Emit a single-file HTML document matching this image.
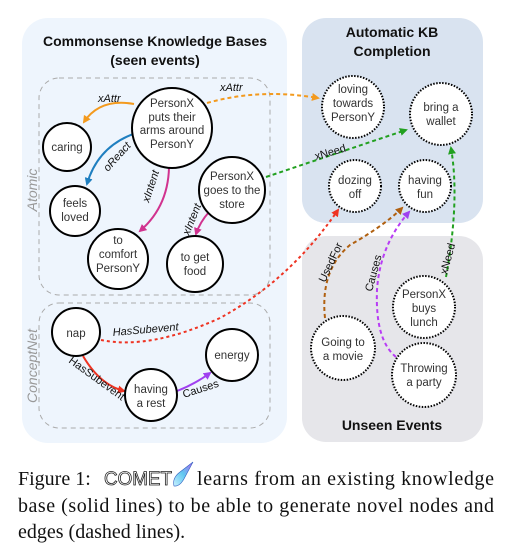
<!DOCTYPE html>
<html><head><meta charset="utf-8"><style>
html,body{margin:0;padding:0;background:#fff;}
svg{display:block;}
.s{font-family:"Liberation Sans",sans-serif;}
.n{font-family:"Liberation Sans",sans-serif;font-size:11.5px;fill:#333;text-anchor:middle;}
.l{font-family:"Liberation Sans",sans-serif;font-size:11px;font-style:italic;fill:#111;}
.t{font-family:"Liberation Sans",sans-serif;font-size:14px;font-weight:bold;fill:#111;text-anchor:middle;}
.c{font-family:"Liberation Serif",serif;font-size:20px;fill:#111;}
</style></head><body>
<svg width="515" height="546" viewBox="0 0 515 546" xmlns="http://www.w3.org/2000/svg">
<defs>
<marker id="aO" markerWidth="8" markerHeight="8" refX="6" refY="4" orient="auto" markerUnits="userSpaceOnUse"><path d="M0,0 L8,4 L0,8z" fill="#f39a1e"/></marker>
<marker id="aB" markerWidth="8" markerHeight="8" refX="6" refY="4" orient="auto" markerUnits="userSpaceOnUse"><path d="M0,0 L8,4 L0,8z" fill="#1f7fc0"/></marker>
<marker id="aM" markerWidth="8" markerHeight="8" refX="6" refY="4" orient="auto" markerUnits="userSpaceOnUse"><path d="M0,0 L8,4 L0,8z" fill="#d1338f"/></marker>
<marker id="aR" markerWidth="8" markerHeight="8" refX="6" refY="4" orient="auto" markerUnits="userSpaceOnUse"><path d="M0,0 L8,4 L0,8z" fill="#ee3322"/></marker>
<marker id="aP" markerWidth="8" markerHeight="8" refX="6" refY="4" orient="auto" markerUnits="userSpaceOnUse"><path d="M0,0 L8,4 L0,8z" fill="#a040f0"/></marker>
<marker id="aG" markerWidth="8" markerHeight="8" refX="6" refY="4" orient="auto" markerUnits="userSpaceOnUse"><path d="M0,0 L8,4 L0,8z" fill="#22a020"/></marker>
<marker id="aBr" markerWidth="8" markerHeight="8" refX="6" refY="4" orient="auto" markerUnits="userSpaceOnUse"><path d="M0,0 L8,4 L0,8z" fill="#b06010"/></marker>
<linearGradient id="cg" x1="0" y1="1" x2="1" y2="0"><stop offset="0" stop-color="#c8f0ff"/><stop offset="0.5" stop-color="#60c8f0"/><stop offset="1" stop-color="#b060f0"/></linearGradient>
</defs>

<!-- panels -->
<rect x="22" y="18" width="265" height="425" rx="26" fill="#eef5fd"/>
<rect x="302" y="18" width="181" height="205" rx="24" fill="#d9e3f0"/>
<rect x="302" y="236" width="181" height="206" rx="24" fill="#e6e6ea"/>

<text class="t" x="155" y="46">Commonsense Knowledge Bases</text>
<text class="t" x="155" y="65">(seen events)</text>
<text class="t" x="392" y="37">Automatic KB</text>
<text class="t" x="392" y="56">Completion</text>
<text class="t" x="392" y="430">Unseen Events</text>

<rect x="39" y="78" width="231" height="217" rx="20" fill="none" stroke="#aaa" stroke-dasharray="5,4"/>
<rect x="39" y="303" width="231" height="125" rx="20" fill="none" stroke="#aaa" stroke-dasharray="5,4"/>
<text class="s" x="0" y="0" transform="translate(37,190) rotate(-90)" text-anchor="middle" font-size="14" font-style="italic" fill="#999">Atomic</text>
<text class="s" x="0" y="0" transform="translate(37,366) rotate(-90)" text-anchor="middle" font-size="14" font-style="italic" fill="#999">ConceptNet</text>

<!-- solid edges -->
<path d="M134,104 Q100,98 84,122" fill="none" stroke="#f39a1e" stroke-width="2" marker-end="url(#aO)"/>
<text class="l" x="98" y="102">xAttr</text>
<path d="M136,133 Q98,146 87,184" fill="none" stroke="#1f7fc0" stroke-width="2" marker-end="url(#aB)"/>
<text class="l" transform="translate(108,172) rotate(-48)">oReact</text>
<path d="M169,162 Q170,205 140,231" fill="none" stroke="#d1338f" stroke-width="2" marker-end="url(#aM)"/>
<text class="l" transform="translate(149,203) rotate(-72)">xIntent</text>
<path d="M209,212 Q200,222 196,234" fill="none" stroke="#d1338f" stroke-width="2" marker-end="url(#aM)"/>
<text class="l" transform="translate(189,236) rotate(-68)">xIntent</text>
<path d="M83,356 Q100,385 124,391" fill="none" stroke="#ee3322" stroke-width="2" marker-end="url(#aR)"/>
<text class="l" transform="translate(68,362) rotate(36)" style="font-style:normal">HasSubevent</text>
<path d="M177,391 Q195,384 210,373" fill="none" stroke="#a040f0" stroke-width="2" marker-end="url(#aP)"/>
<text class="l" transform="translate(184,398) rotate(-18)" style="font-style:normal">Causes</text>

<!-- dashed edges -->
<path d="M207,103 Q260,88 318,98" fill="none" stroke="#f39a1e" stroke-width="2" stroke-dasharray="4,3" marker-end="url(#aO)"/>
<text class="l" x="220" y="91">xAttr</text>
<path d="M266,177 L406,130" fill="none" stroke="#22a020" stroke-width="2" stroke-dasharray="4,3" marker-end="url(#aG)"/>
<text class="l" transform="translate(316,160) rotate(-16)" style="font-style:normal">xNeed</text>
<path d="M101,340 Q150,350 220,318 Q290,280 338,210" fill="none" stroke="#ee3322" stroke-width="2" stroke-dasharray="3,3" marker-end="url(#aR)"/>
<text class="l" transform="translate(113,336) rotate(-5)">HasSubevent</text>
<path d="M325,318 Q320,270 350,245 Q385,225 402,208" fill="none" stroke="#b06010" stroke-width="2" stroke-dasharray="4,3" marker-end="url(#aBr)"/>
<text class="l" transform="translate(325,283) rotate(-65)" style="font-style:normal">UsedFor</text>
<path d="M396,357 Q375,340 377,290 Q380,245 409,212" fill="none" stroke="#b83cf5" stroke-width="2" stroke-dasharray="4,3" marker-end="url(#aP)"/>
<text class="l" transform="translate(372,292) rotate(-75)" style="font-style:normal">Causes</text>
<path d="M446,277 Q460,200 451,148" fill="none" stroke="#22a020" stroke-width="2" stroke-dasharray="4,3" marker-end="url(#aG)"/>
<text class="l" transform="translate(447,275) rotate(-75)" style="font-style:normal">xNeed</text>

<!-- solid nodes -->
<g fill="#fff" stroke="#000" stroke-width="2">
<circle cx="172" cy="128" r="40"/>
<circle cx="67" cy="147" r="24"/>
<circle cx="75" cy="211" r="25"/>
<circle cx="118" cy="259" r="30"/>
<circle cx="232" cy="190" r="33"/>
<circle cx="195" cy="264" r="28"/>
<circle cx="76" cy="332" r="24"/>
<circle cx="151" cy="395" r="26"/>
<circle cx="232" cy="355" r="26"/>
</g>
<!-- dotted nodes -->
<g fill="#fff" stroke="#000" stroke-width="2" stroke-dasharray="1.5,1.5">
<circle cx="353" cy="107" r="31"/>
<circle cx="441" cy="114" r="31"/>
<circle cx="355" cy="186" r="26"/>
<circle cx="425" cy="186" r="26"/>
<circle cx="424" cy="307" r="31"/>
<circle cx="343" cy="348" r="32"/>
<circle cx="424" cy="375" r="32"/>
</g>

<g class="n">
<text x="172" y="107">PersonX</text><text x="172" y="121">puts their</text><text x="172" y="134">arms around</text><text x="172" y="148">PersonY</text>
<text x="67" y="151">caring</text>
<text x="75" y="207">feels</text><text x="75" y="221">loved</text>
<text x="118" y="244">to</text><text x="118" y="258">comfort</text><text x="118" y="272">PersonY</text>
<text x="232" y="180">PersonX</text><text x="232" y="194">goes to the</text><text x="232" y="208">store</text>
<text x="195" y="261">to get</text><text x="195" y="275">food</text>
<text x="76" y="337">nap</text>
<text x="151" y="393">having</text><text x="151" y="407">a rest</text>
<text x="232" y="359">energy</text>
<text x="353" y="93">loving</text><text x="353" y="107">towards</text><text x="353" y="121">PersonY</text>
<text x="441" y="111">bring a</text><text x="441" y="125">wallet</text>
<text x="355" y="184">dozing</text><text x="355" y="198">off</text>
<text x="425" y="184">having</text><text x="425" y="198">fun</text>
<text x="424" y="298">PersonX</text><text x="424" y="312">buys</text><text x="424" y="326">lunch</text>
<text x="343" y="346">Going to</text><text x="343" y="360">a movie</text>
<text x="424" y="372">Throwing</text><text x="424" y="386">a party</text>
</g>

<!-- caption -->
<text class="c" x="18" y="485">Figure 1:</text>
<text x="104" y="485" font-family="Liberation Sans, sans-serif" font-size="19" fill="#fff" stroke="#222" stroke-width="0.8" textLength="68" lengthAdjust="spacingAndGlyphs">COMET</text>
<path d="M174,486 Q172,478 180,472 L193,462 L185,477 Q180,487 174,486z" fill="url(#cg)" stroke="#3060c0" stroke-width="0.6"/>
<text class="c" x="197" y="485" textLength="297" lengthAdjust="spacing">learns from an existing knowledge</text>
<text class="c" x="18" y="512" textLength="476" lengthAdjust="spacing">base (solid lines) to be able to generate novel nodes and</text>
<text class="c" x="18" y="538">edges (dashed lines).</text>
</svg>
</body></html>
